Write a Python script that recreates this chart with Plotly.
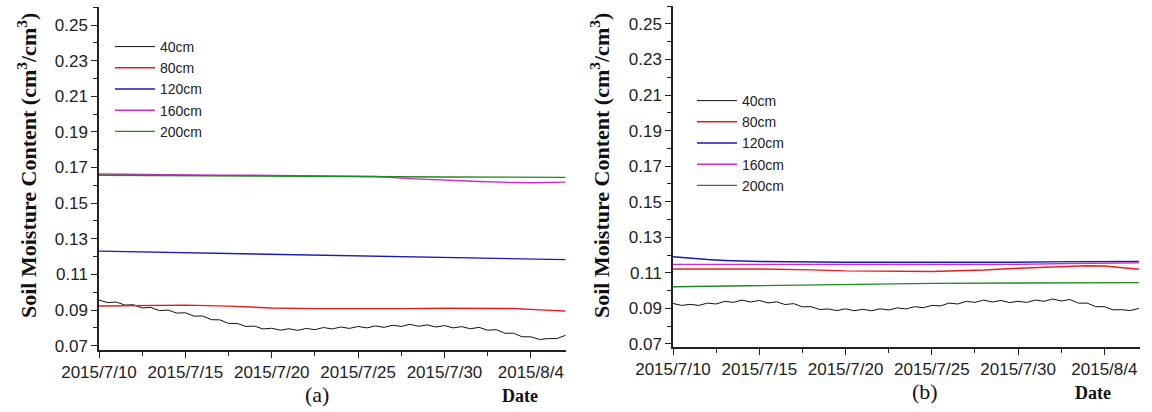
import plotly.graph_objects as go
import pandas as pd

W, H = 1152, 412

# ---------------- data ----------------
half_day_times = pd.date_range("2015-07-10", "2015-08-06", freq="12h")

a_40cm = [0.0956, 0.0942, 0.0945, 0.0928, 0.0930, 0.0912, 0.0915, 0.0897, 0.0900, 0.0883,
          0.0885, 0.0866, 0.0867, 0.0846, 0.0845, 0.0825, 0.0825, 0.0808, 0.0810, 0.0794,
          0.0798, 0.0787, 0.0795, 0.0786, 0.0797, 0.0790, 0.0802, 0.0794, 0.0805, 0.0797,
          0.0808, 0.0800, 0.0811, 0.0803, 0.0815, 0.0808, 0.0820, 0.0809, 0.0817, 0.0805,
          0.0813, 0.0800, 0.0807, 0.0795, 0.0803, 0.0787, 0.0790, 0.0770, 0.0770, 0.0750,
          0.0750, 0.0735, 0.0740, 0.0740, 0.0758]

b_40cm = [0.0928, 0.0917, 0.0923, 0.0917, 0.0930, 0.0925, 0.0940, 0.0934, 0.0947, 0.0936,
          0.0945, 0.0931, 0.0937, 0.0922, 0.0927, 0.0909, 0.0910, 0.0894, 0.0897, 0.0888,
          0.0898, 0.0887, 0.0895, 0.0887, 0.0898, 0.0891, 0.0903, 0.0897, 0.0910, 0.0904,
          0.0917, 0.0914, 0.0930, 0.0925, 0.0940, 0.0934, 0.0947, 0.0936, 0.0945, 0.0933,
          0.0940, 0.0934, 0.0947, 0.0940, 0.0953, 0.0942, 0.0950, 0.0930, 0.0930, 0.0910,
          0.0910, 0.0892, 0.0893, 0.0888, 0.0900]

a_80cm_t = ["2015-07-10", "2015-07-12 12:00", "2015-07-15", "2015-07-17 12:00", "2015-07-20",
            "2015-07-22 12:00", "2015-07-25", "2015-07-27 12:00", "2015-07-30", "2015-08-01 12:00",
            "2015-08-03", "2015-08-04 12:00", "2015-08-06"]
a_80cm = [0.0923, 0.0926, 0.0928, 0.0922, 0.0912, 0.0908, 0.0907, 0.0908, 0.0910, 0.0911,
          0.0909, 0.0901, 0.0895]

a_120cm_t = ["2015-07-10", "2015-07-15", "2015-07-20", "2015-07-25", "2015-07-30", "2015-08-04", "2015-08-06"]
a_120cm = [0.1231, 0.1222, 0.1213, 0.1205, 0.1196, 0.1187, 0.1183]

a_160cm_t = ["2015-07-10", "2015-07-13", "2015-07-17", "2015-07-20", "2015-07-24", "2015-07-26",
             "2015-07-28", "2015-07-30", "2015-08-01", "2015-08-03", "2015-08-04", "2015-08-06"]
a_160cm = [0.1664, 0.1660, 0.1657, 0.1656, 0.1653, 0.1650, 0.1638, 0.1628, 0.1622, 0.1616, 0.1615, 0.1618]

a_200cm_t = ["2015-07-10", "2015-07-15", "2015-07-20", "2015-07-25", "2015-07-30", "2015-08-06"]
a_200cm = [0.1657, 0.1654, 0.1653, 0.1650, 0.1647, 0.1645]

b_80cm_t = ["2015-07-10", "2015-07-15", "2015-07-18", "2015-07-20", "2015-07-25", "2015-07-28",
            "2015-07-30", "2015-08-01", "2015-08-03", "2015-08-04", "2015-08-05", "2015-08-06"]
b_80cm = [0.1122, 0.1122, 0.1117, 0.1111, 0.1108, 0.1116, 0.1126, 0.1135, 0.1140, 0.1139, 0.1130, 0.1120]

b_120cm_t = ["2015-07-10", "2015-07-11", "2015-07-12", "2015-07-13", "2015-07-15", "2015-07-20",
             "2015-07-25", "2015-07-30", "2015-08-02", "2015-08-06"]
b_120cm = [0.1191, 0.1182, 0.1175, 0.1170, 0.1164, 0.1160, 0.1159, 0.1160, 0.1163, 0.1164]

b_160cm_t = ["2015-07-10", "2015-07-20", "2015-07-30", "2015-08-02", "2015-08-04", "2015-08-06"]
b_160cm = [0.1148, 0.1146, 0.1148, 0.1153, 0.1156, 0.1156]

b_200cm_t = ["2015-07-10", "2015-07-15", "2015-07-20", "2015-07-25", "2015-07-30", "2015-08-06"]
b_200cm = [0.1022, 0.1029, 0.1036, 0.1041, 0.1043, 0.1045]

depth_names = ["40cm", "80cm", "120cm", "160cm", "200cm"]
depth_colors = ["#111111", "#e02020", "#1a1ab4", "#cc2ccc", "#1f8a1f"]
depth_widths = [1.0, 1.4, 1.4, 1.4, 1.4]

x_tick_vals = ["2015-07-10", "2015-07-15", "2015-07-20", "2015-07-25", "2015-07-30", "2015-08-04"]
x_tick_text = ["2015/7/10", "2015/7/15", "2015/7/20", "2015/7/25", "2015/7/30", "2015/8/4"]
y_tick_vals = [0.07, 0.09, 0.11, 0.13, 0.15, 0.17, 0.19, 0.21, 0.23, 0.25]
y_tick_text = ["0.07", "0.09", "0.11", "0.13", "0.15", "0.17", "0.19", "0.21", "0.23", "0.25"]

panel_a = [(half_day_times, a_40cm), (a_80cm_t, a_80cm), (a_120cm_t, a_120cm),
           (a_160cm_t, a_160cm), (a_200cm_t, a_200cm)]
panel_b = [(half_day_times, b_40cm), (b_80cm_t, b_80cm), (b_120cm_t, b_120cm),
           (b_160cm_t, b_160cm), (b_200cm_t, b_200cm)]

# ---------------- figure ----------------
fig = go.Figure()
for i, (t, v) in enumerate(panel_a):
    fig.add_trace(go.Scatter(x=list(t), y=v, mode="lines", name=depth_names[i],
                             line=dict(color=depth_colors[i], width=depth_widths[i]),
                             xaxis="x", yaxis="y", legend="legend"))
for i, (t, v) in enumerate(panel_b):
    fig.add_trace(go.Scatter(x=list(t), y=v, mode="lines", name=depth_names[i],
                             line=dict(color=depth_colors[i], width=depth_widths[i]),
                             xaxis="x2", yaxis="y2", legend="legend2"))

def px(x):
    return x / W

def py(y):
    return 1 - y / H

tick_font = dict(family="Liberation Sans, Arial", size=17, color="#222")
xrange = ["2015-07-10", "2015-08-06 00:50"]

def xaxis_cfg(dom, anchor):
    return dict(domain=dom, anchor=anchor, range=xrange, type="date",
                tickvals=x_tick_vals, ticktext=x_tick_text,
                ticks="outside", ticklen=6, tickwidth=1.3, tickcolor="#222",
                minor=dict(dtick=2.5 * 86400000, tick0="2015-07-10", ticks="outside",
                           ticklen=4, tickwidth=1.1, tickcolor="#222", showgrid=False),
                showline=True, linecolor="#222", linewidth=1.5, showgrid=False,
                zeroline=False, tickfont=tick_font, fixedrange=True, automargin=False)

def yaxis_cfg(dom, anchor, rng):
    return dict(domain=dom, anchor=anchor, range=rng,
                tickvals=y_tick_vals, ticktext=y_tick_text,
                ticks="outside", ticklen=6, tickwidth=1.3, tickcolor="#222",
                minor=dict(dtick=0.01, tick0=0.06, ticks="outside", ticklen=4,
                           tickwidth=1.1, tickcolor="#222", showgrid=False),
                showline=True, linecolor="#222", linewidth=1.5, showgrid=False,
                zeroline=False, tickfont=tick_font, fixedrange=True, automargin=False)

legend_font = dict(family="Liberation Sans, Arial", size=14, color="#222")

fig.update_layout(
    width=W, height=H,
    margin=dict(l=0, r=0, t=0, b=0, autoexpand=False),
    paper_bgcolor="white", plot_bgcolor="white",
    xaxis=xaxis_cfg([px(99), px(566)], "y"),
    yaxis=yaxis_cfg([py(350), py(7)], "x", [0.06759, 0.2601]),
    xaxis2=xaxis_cfg([px(673), px(1139.5)], "y2"),
    yaxis2=yaxis_cfg([py(347.3), py(6)], "x2", [0.06814, 0.2601]),
    legend=dict(x=px(110), y=py(31), xanchor="left", yanchor="top",
                bgcolor="rgba(0,0,0,0)", borderwidth=0, font=legend_font,
                tracegroupgap=0, itemwidth=40),
    legend2=dict(x=px(692), y=py(85), xanchor="left", yanchor="top",
                 bgcolor="rgba(0,0,0,0)", borderwidth=0, font=legend_font,
                 tracegroupgap=0, itemwidth=40),
    showlegend=True,
)

title_font = dict(family="Liberation Serif, Times New Roman", size=22, color="#111")
ytitle = "<b>Soil Moisture Content (cm<sup>3</sup>/cm<sup>3</sup>)</b>"
annos = [
    dict(x=px(27), y=py(166), text=ytitle, textangle=-90, font=title_font),
    dict(x=px(600), y=py(166), text=ytitle, textangle=-90, font=title_font),
    dict(x=px(317), y=py(394), text="(a)", font=dict(family="Liberation Serif, Times New Roman", size=22, color="#111")),
    dict(x=px(925), y=py(391), text="(b)", font=dict(family="Liberation Serif, Times New Roman", size=22, color="#111")),
    dict(x=px(520), y=py(396), text="<b>Date</b>", font=dict(family="Liberation Serif, Times New Roman", size=18, color="#111")),
    dict(x=px(1093), y=py(393), text="<b>Date</b>", font=dict(family="Liberation Serif, Times New Roman", size=18, color="#111")),
]
for a in annos:
    a.update(xref="paper", yref="paper", showarrow=False, xanchor="center", yanchor="middle")
fig.update_layout(annotations=annos)

fig.write_html("out.html", config={"displayModeBar": False},
               post_script="document.body.style.margin='0';")
